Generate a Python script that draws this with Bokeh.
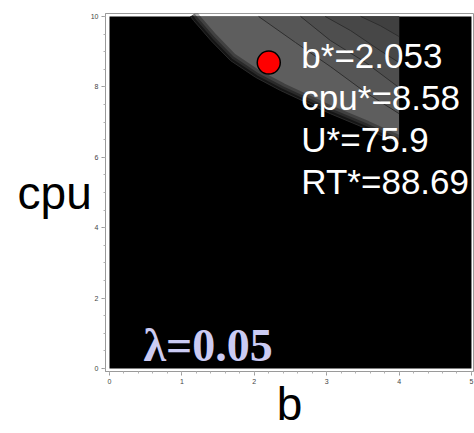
import numpy as np
from bokeh.plotting import figure
from bokeh.models import Range1d, FixedTicker
from bokeh.core.properties import value
from bokeh.embed import file_html
from bokeh.resources import INLINE

# ---- data ----
b_limits = [0, 5]
cpu_limits = [0, 10]
feasible_b_max = 4.0

# outer edge of the feasible (gray) region
outer_b = [1.12, 1.16, 1.40, 1.67, 2.02, 2.36, 3.05, 3.54, 4.0]
outer_cpu = [10.0, 9.89, 9.32, 8.75, 8.27, 7.90, 7.24, 6.82, 6.39]

# inner contour lines (upper-right, darker levels)
c1_b = [2.06, 2.57, 3.05, 3.54, 4.0]
c1_cpu = [10.0, 9.26, 8.58, 7.84, 7.24]
c2_b = [2.64, 3.05, 3.54, 4.0]
c2_cpu = [10.0, 9.32, 8.69, 7.98]
c3_b = [2.98, 3.33, 3.74, 4.0]
c3_cpu = [10.0, 9.60, 9.03, 8.69]
c4_b = [3.47, 3.74, 4.0]
c4_cpu = [10.0, 9.74, 9.43]

opt_b = [2.2]
opt_cpu = [8.69]

ann_text = ["b*=2.053", "cpu*=8.58", "U*=75.9", "RT*=88.69"]
lambda_text = "λ=0.05"

x_major = [0, 1, 2, 3, 4, 5]
y_major = [0, 2, 4, 6, 8, 10]

# ---- figure ----
p = figure(width=474, height=433, output_backend="svg", toolbar_location=None,
           x_range=Range1d(-0.055, 5.028), y_range=Range1d(-0.085, 10.085),
           min_border_left=105, min_border_right=1, min_border_top=13, min_border_bottom=62)
p.background_fill_color = "white"
p.border_fill_color = "white"
p.outline_line_color = "#9a9a9a"
p.grid.visible = False

# black plot region
p.quad(left=[b_limits[0]], right=[b_limits[1]], bottom=[cpu_limits[0]], top=[cpu_limits[1]],
       fill_color="black", line_color=None)

band_colors = ["#5e5e5e", "#565656", "#4e4e4e", "#474747", "#404040"]
levels = [(outer_b, outer_cpu), (c1_b, c1_cpu), (c2_b, c2_cpu), (c3_b, c3_cpu), (c4_b, c4_cpu)]
for (bx, cy), col in zip(levels, band_colors):
    p.patch(bx + [feasible_b_max], cy + [cpu_limits[1]], fill_color=col, line_color=None)

# glow on the outer boundary
for w, a in [(16, 0.3), (10, 0.35), (5, 0.5)]:
    p.line(outer_b, outer_cpu, line_color="black", line_width=w, line_alpha=a)
p.line(outer_b, outer_cpu, line_color="#2a2a2a", line_width=1)

for bx, cy in levels[1:]:
    p.line(bx, cy, line_color="#2e2e2e", line_width=1)

# optimum
p.scatter(opt_b, opt_cpu, size=23, fill_color="#ff0000", line_color="black", line_width=1.5)

# annotations
ann_x = [2.65] * 4
ann_y = [8.89, 7.70, 6.51, 5.31]
p.text(ann_x, ann_y, text=ann_text, text_color="white", text_font=value("Liberation Sans"),
       text_font_size="35px", text_baseline="alphabetic", text_align="left")
p.text([0.47], [0.65], text=[lambda_text], text_color="#cbcbf3",
       text_font=value("Liberation Serif"), text_font_style="bold",
       text_font_size="46px", text_baseline="alphabetic", text_align="left")

# axes
for ax, major, minor in [(p.xaxis, x_major, list(np.round(np.arange(0, 5.01, 0.2), 2))),
                         (p.yaxis, y_major, list(np.round(np.arange(0, 10.01, 0.5), 2)))]:
    ax.ticker = FixedTicker(ticks=major, minor_ticks=minor)
    ax.axis_line_color = "#9a9a9a"
    ax.major_tick_line_color = "#9a9a9a"
    ax.minor_tick_line_color = "#b0b0b0"
    ax.major_tick_out = 4
    ax.major_tick_in = 0
    ax.minor_tick_out = 2
    ax.minor_tick_in = 0
    ax.major_label_text_font = "Liberation Sans"
    ax.major_label_text_font_size = "7px"
    ax.major_label_text_color = "#444444"
    ax.major_label_standoff = 3
    ax.axis_label_text_font = "Liberation Sans"
    ax.axis_label_text_font_size = "46px"
    ax.axis_label_text_font_style = "normal"
    ax.axis_label_text_color = "black"

p.xaxis.axis_label = "b"
p.xaxis.axis_label_standoff = -9
p.yaxis.axis_label = "cpu"
p.yaxis.axis_label_orientation = "horizontal"
p.yaxis.axis_label_standoff = -4

open("out.html", "w").write(file_html(p, INLINE))
